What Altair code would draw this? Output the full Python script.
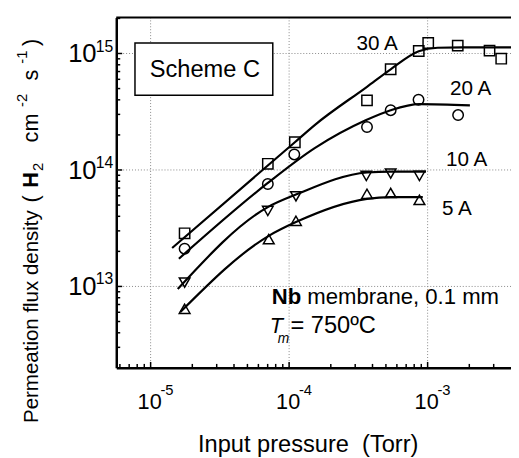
import altair as alt
import pandas as pd

# ---------------- data ----------------
series = ["30 A", "20 A", "10 A", "5 A"]
shapes = ["square", "circle", "triangle-down", "triangle-up"]
sizes = [110, 120, 140, 140]

# measured points (input pressure [Torr], flux [H2 cm-2 s-1])
p30 = [1.76e-5, 7.02e-5, 1.10e-4, 3.65e-4, 5.41e-4, 8.63e-4, 1.01e-3, 1.65e-3, 2.80e-3, 3.40e-3]
f30 = [2.86e13, 1.13e14, 1.73e14, 3.96e14, 7.32e14, 1.05e15, 1.23e15, 1.17e15, 1.06e15, 9.02e14]
p20 = [1.76e-5, 7.02e-5, 1.09e-4, 3.65e-4, 5.41e-4, 8.60e-4, 1.66e-3]
f20 = [2.11e13, 7.57e13, 1.36e14, 2.34e14, 3.26e14, 4.01e14, 2.96e14]
p10 = [1.76e-5, 7.02e-5, 1.12e-4, 3.61e-4, 5.41e-4, 8.73e-4]
f10 = [1.08e13, 4.45e13, 5.94e13, 8.89e13, 9.31e13, 8.89e13]
p5 = [1.76e-5, 7.13e-5, 1.12e-4, 3.65e-4, 5.41e-4, 8.73e-4]
f5 = [6.43e12, 2.55e13, 3.66e13, 6.24e13, 6.35e13, 5.54e13]

# fitted curves
c30x = [1.43e-5, 1.10e-4, 1.53e-4, 3.65e-4, 5.41e-4, 8.63e-4, 1.18e-3, 1.77e-3, 4.0e-3]
c30y = [2.14e13, 1.73e14, 2.43e14, 5.18e14, 7.32e14, 1.044e15, 1.12e15, 1.128e15, 1.13e15]
c20x = [1.60e-5, 6.95e-5, 1.53e-4, 3.57e-4, 5.41e-4, 8.73e-4, 2.02e-3]
c20y = [1.73e13, 7.66e13, 1.54e14, 2.67e14, 3.26e14, 3.68e14, 3.58e14]
c10x = [1.57e-5, 7.02e-5, 1.12e-4, 3.65e-4, 5.41e-4, 9.73e-4]
c10y = [9.49e12, 4.80e13, 6.15e13, 9.52e13, 9.68e13, 9.68e13]
c5x = [1.64e-5, 7.13e-5, 1.12e-4, 3.65e-4, 5.41e-4, 9.23e-4]
c5y = [6.03e12, 2.72e13, 3.57e13, 5.65e13, 5.84e13, 5.84e13]

x_decades = [1e-5, 1e-4, 1e-3]
x_exps = ["-5", "-4", "-3"]
y_decades = [1e13, 1e14, 1e15]
y_exps = ["13", "14", "15"]
x_minor = [6e-6, 7e-6, 8e-6, 9e-6, 2e-5, 3e-5, 4e-5, 5e-5, 6e-5, 7e-5, 8e-5, 9e-5,
           2e-4, 3e-4, 4e-4, 5e-4, 6e-4, 7e-4, 8e-4, 9e-4, 2e-3, 3e-3]
y_minor = [3e12, 4e12, 5e12, 6e12, 7e12, 8e12, 9e12, 2e13, 3e13, 4e13, 5e13, 6e13, 7e13,
           8e13, 9e13, 2e14, 3e14, 4e14, 5e14, 6e14, 7e14, 8e14, 9e14, 2e15]

# ---------------- tables ----------------
pts = pd.concat([pd.DataFrame({"p": p, "f": f, "s": s})
                 for p, f, s in zip([p30, p20, p10, p5], [f30, f20, f10, f5], series)])
crv = pd.concat([pd.DataFrame({"p": p, "f": f, "s": s})
                 for p, f, s in zip([c30x, c20x, c10x, c5x], [c30y, c20y, c10y, c5y], series)])
xdec = pd.DataFrame({"g": x_decades, "e": x_exps, "b": ["10"] * 3})
ydec = pd.DataFrame({"g": y_decades, "e": y_exps, "b": ["10"] * 3})
xmin_df = pd.DataFrame({"g": x_minor})
ymin_df = pd.DataFrame({"g": y_minor})
one = pd.DataFrame({"a": [0]})

W, H = 401, 356
FONT = "Liberation Sans"
xs = alt.Scale(type="log", domain=[5.65e-6, 4.0e-3])
ys = alt.Scale(type="log", domain=[2.0e12, 2.04e15])


def X(f):
    return alt.X(f, scale=xs, title=None)


def Y(f):
    return alt.Y(f, scale=ys, title=None)


def txt(text, x, y, size, align="left", weight="normal", style="normal", angle=0):
    return alt.Chart(one).mark_text(
        text=text, font=FONT, fontSize=size, color="black", align=align,
        baseline="alphabetic", fontWeight=weight, fontStyle=style, angle=angle
    ).encode(x=alt.value(x), y=alt.value(y))


grid_x = alt.Chart(xdec).mark_rule(color="#888", strokeDash=[1, 2], strokeWidth=1).encode(x=X("g:Q"))
grid_y = alt.Chart(ydec).mark_rule(color="#888", strokeDash=[1, 2], strokeWidth=1).encode(y=Y("g:Q"))

box = alt.Chart(one).mark_rect(fill="white", stroke="black", strokeWidth=1.5).encode(
    x=alt.value(19), x2=alt.value(159), y=alt.value(26), y2=alt.value(79))

lines = alt.Chart(crv).mark_line(color="black", strokeWidth=2.2, interpolate="monotone", clip=True).encode(
    x=X("p:Q"), y=Y("f:Q"), detail="s:N")

points = alt.Chart(pts).mark_point(filled=False, color="black", strokeWidth=1.5, opacity=1).encode(
    x=X("p:Q"), y=Y("f:Q"),
    shape=alt.Shape("s:N", scale=alt.Scale(domain=series, range=shapes), legend=None),
    size=alt.Size("s:N", scale=alt.Scale(domain=series, range=sizes), legend=None))

# inward ticks
bx_major = alt.Chart(xdec).mark_rule(color="black", strokeWidth=1.5).encode(
    x=X("g:Q"), y=alt.value(H), y2=alt.value(H - 6))
bx_minor = alt.Chart(xmin_df).mark_rule(color="black", strokeWidth=1.5).encode(
    x=X("g:Q"), y=alt.value(H), y2=alt.value(H - 4))
ly_major = alt.Chart(ydec).mark_rule(color="black", strokeWidth=1.5).encode(
    y=Y("g:Q"), x=alt.value(0), x2=alt.value(6))
ly_minor = alt.Chart(ymin_df).mark_rule(color="black", strokeWidth=1.5).encode(
    y=Y("g:Q"), x=alt.value(0), x2=alt.value(4))
top_frame = alt.Chart(one).mark_rule(color="black", strokeWidth=2).encode(
    x=alt.value(0), x2=alt.value(W), y=alt.value(0))

# tick labels
xlab_b = alt.Chart(xdec).mark_text(font=FONT, fontSize=22, align="center", baseline="alphabetic", dx=-1).encode(
    x=X("g:Q"), y=alt.value(397.7), text="b:N")
xlab_e = alt.Chart(xdec).mark_text(font=FONT, fontSize=15, align="left", baseline="alphabetic", dx=10).encode(
    x=X("g:Q"), y=alt.value(384), text="e:N")
ylab_b = alt.Chart(ydec).mark_text(font=FONT, fontSize=26, align="right", baseline="alphabetic", dy=9).encode(
    y=Y("g:Q"), x=alt.value(-20), text="b:N")
ylab_e = alt.Chart(ydec).mark_text(font=FONT, fontSize=16, align="right", baseline="alphabetic", dy=-2).encode(
    y=Y("g:Q"), x=alt.value(-3), text="e:N")

texts = [
    txt("Scheme C", 90, 61, 24, align="center"),
    txt(series[0], 265, 32.7, 21, align="center"),
    txt(series[1], 360, 79, 21, align="center"),
    txt(series[2], 356, 151, 21, align="center"),
    txt(series[3], 346, 201, 21, align="center"),
    txt("Nb", 158, 291, 22.5, weight="bold"),
    txt("membrane, 0.1 mm", 194, 291, 22.5),
    txt("T", 156, 321, 22, style="italic"),
    txt("m", 164, 331, 14, style="italic"),
    txt("= 750\u00baC", 177, 321, 24),
    txt("Input pressure \u00a0(Torr)", 195, 441, 24, align="center"),
    # rotated y-axis title, built from pieces
    txt("Permeation flux density", -80, 412, 20.8, angle=270),
    txt("(", -80, 188, 22, angle=270),
    txt("H", -80, 173, 22, weight="bold", angle=270),
    txt("2", -74, 156, 15, angle=270),
    txt("cm", -80, 127, 22, angle=270),
    txt("-2", -91, 91, 15, angle=270),
    txt("s", -80, 64, 22, angle=270),
    txt("-1", -91, 47, 15, angle=270),
    txt(")", -80, 29, 22, angle=270),
]

chart = alt.layer(
    grid_x, grid_y, box, lines, points,
    bx_major, bx_minor, ly_major, ly_minor, top_frame,
    xlab_b, xlab_e, ylab_b, ylab_e, *texts
).properties(
    width=W, height=H,
    padding={"left": 110, "top": 6, "right": 0, "bottom": 88},
    autosize=alt.AutoSizeParams(type="none"),
).configure_view(stroke=None).configure_axis(
    labels=False, ticks=False, grid=False, domainColor="black", domainWidth=2.5
)

chart.save("out.html", embed_options={"renderer": "svg", "actions": False})
